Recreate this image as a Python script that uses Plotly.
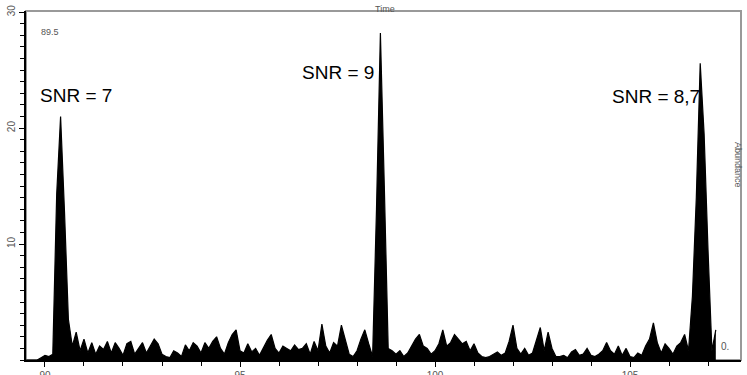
import plotly.graph_objects as go

# retention time grid (min) and abundance values
times = [round(89.5 + 0.1 * i, 2) for i in range(178)]
abundance = [
    0, 0, 0, 0, 0.2, 0.4, 0.3, 0.5,                      # 89.5 - 90.2
    14.3, 21.0, 12.8, 3.5, 1.2, 2.4, 0.8, 1.8, 0.6, 1.5,  # 90.3 - 91.2
    0.5, 1.2, 0.9, 1.6, 0.6, 1.5, 1.0, 0.4, 1.4, 1.6,     # 91.3 - 92.2
    0.5, 1.0, 1.5, 0.6, 1.2, 1.8, 1.4, 0.5, 0.3, 0.2,     # 92.3 - 93.2
    0.8, 0.6, 0.3, 1.3, 0.8, 1.5, 1.2, 0.6, 1.5, 1.0,     # 93.3 - 94.2
    1.6, 2.0, 1.0, 0.5, 1.5, 2.2, 2.6, 0.8, 0.6, 1.4,     # 94.3 - 95.2
    0.7, 1.0, 0.4, 1.1, 1.7, 2.2, 1.0, 0.6, 1.2, 1.0,     # 95.3 - 96.2
    0.8, 1.3, 0.9, 1.0, 1.4, 0.5, 1.6, 0.8, 3.1, 1.2,     # 96.3 - 97.2
    0.6, 1.5, 1.2, 3.0, 1.8, 0.5, 0.3, 0.8, 1.8, 2.6,     # 97.3 - 98.2
    1.4, 0.3, 13.0, 28.2, 15.0, 1.0, 0.8, 0.5, 0.8, 0.3,  # 98.3 - 99.2
    0.6, 1.2, 1.8, 2.2, 1.2, 1.0, 0.5, 0.8, 1.4, 2.6,     # 99.3 - 100.2
    1.2, 1.5, 2.2, 1.8, 1.4, 1.6, 0.8, 1.4, 0.6, 0.3,     # 100.3 - 101.2
    0.2, 0.3, 0.5, 0.7, 0.4, 0.6, 1.6, 3.0, 1.0, 0.5,     # 101.3 - 102.2
    1.0, 0.4, 0.6, 1.8, 2.8, 0.8, 2.4, 1.0, 0.3, 0.3,     # 102.3 - 103.2
    0.4, 0.2, 0.7, 0.9, 0.4, 0.5, 1.0, 0.4, 0.3, 0.5,     # 103.3 - 104.2
    0.8, 1.5, 0.8, 0.5, 1.2, 0.4, 1.0, 0.3, 0.2, 0.6,     # 104.3 - 105.2
    0.4, 1.2, 1.8, 3.2, 1.5, 0.6, 1.4, 1.0, 0.5, 1.2,     # 105.3 - 106.2
    1.5, 2.2, 0.8, 5.5, 14.0, 25.6, 19.5, 9.5, 0.8, 2.6,  # 106.3 - 107.2
]
times = times[:len(abundance)]

x_ticks = [90, 95, 100, 105]
y_ticks = [10, 20, 30]
peak_labels = ["SNR = 7", "SNR = 9", "SNR = 8,7"]
peak_label_pos = [(90.8, 22.8), (97.51, 24.8), (105.67, 22.7)]

fig = go.Figure()
fig.add_trace(go.Scatter(
    x=times, y=abundance, mode="lines",
    line=dict(color="black", width=1.2),
    fill="tozeroy", fillcolor="black",
    showlegend=False, hoverinfo="skip",
))

ann = []
for t, (ax, ay) in zip(peak_labels, peak_label_pos):
    ann.append(dict(x=ax, y=ay, xref="x", yref="y", text=t, showarrow=False,
                    font=dict(size=19, color="black", family="Liberation Sans, Arial")))
small = dict(family="Liberation Sans, Arial", color="#555555")
ann += [
    dict(x=(39 - 26) / 715, y=(360 - 25) / 349, xref="paper", yref="paper", text="89.5",
         showarrow=False, font=dict(size=9, **small)),
    dict(x=(731 - 26) / 715, y=(360 - 354) / 349, xref="paper", yref="paper", text="0.",
         showarrow=False, font=dict(size=10, **small)),
    dict(x=(385 - 26) / 715, y=(360 - 2) / 349, xref="paper", yref="paper", text="Time",
         showarrow=False, font=dict(size=9, **small)),
    dict(x=(745 - 26) / 715, y=(360 - 165) / 349, xref="paper", yref="paper", text="Abundance",
         showarrow=False, textangle=90, font=dict(size=9, **small)),
]

fig.update_layout(
    width=747, height=375,
    margin=dict(l=26, r=6, t=11, b=15, autoexpand=False),
    paper_bgcolor="white", plot_bgcolor="white",
    annotations=ann,
    shapes=[dict(type="rect", xref="paper", yref="paper", x0=0, x1=1, y0=0, y1=1,
                 line=dict(color="#999999", width=2), layer="below")],
    xaxis=dict(range=[89.513, 107.846], tickvals=x_ticks, ticks="outside", ticklen=5,
               tickcolor="black", showgrid=False, zeroline=False, showline=True,
               linecolor="black", linewidth=2, automargin=False,
               tickfont=dict(size=10, **small),
               minor=dict(dtick=1, tick0=90, ticks="outside", ticklen=4, tickcolor="black")),
    yaxis=dict(range=[0, 30.1], tickvals=y_ticks, ticks="outside", ticklen=5,
               tickcolor="black", showgrid=False, zeroline=False, showline=True,
               linecolor="black", linewidth=2, tickangle=-90, automargin=False,
               tickfont=dict(size=10, **small),
               minor=dict(dtick=1, tick0=0, ticks="outside", ticklen=4, tickcolor="black")),
)

fig.write_html("out.html")
